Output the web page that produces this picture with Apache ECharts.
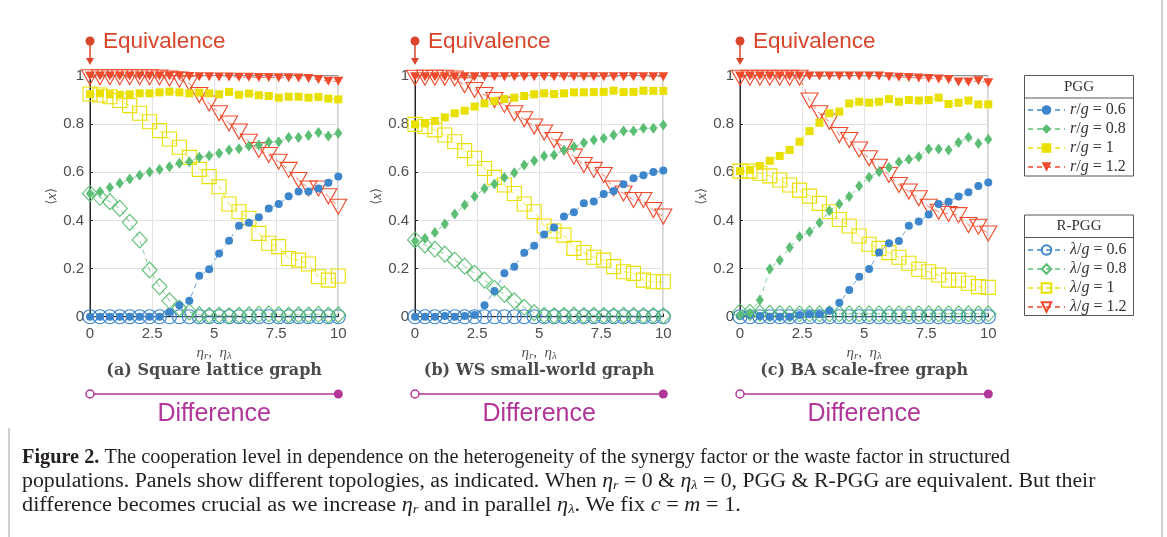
<!DOCTYPE html>
<html><head><meta charset="utf-8">
<script src="https://cdn.jsdelivr.net/npm/echarts@6/dist/echarts.min.js"></script>
<style>html,body{margin:0;padding:0;background:#fff}#c{width:1167px;height:537px}</style>
</head><body><div id="c"></div><script>
// ---- data ----
const xs = [0,0.4,0.8,1.2,1.6,2,2.4,2.8,3.2,3.6,4,4.4,4.8,5.2,5.6,6,6.4,6.8,7.2,7.6,8,8.4,8.8,9.2,9.6,10];
const xTicks = ['0','2.5','5','7.5','10'];
const yTicks = ['0','0.2','0.4','0.6','0.8','1'];
const panelTitles = ['(a) Square lattice graph','(b) WS small-world graph','(c) BA scale-free graph'];
const pggNames = ['r/g = 0.6','r/g = 0.8','r/g = 1','r/g = 1.2'];
const rpggNames = ['λ/g = 0.6','λ/g = 0.8','λ/g = 1','λ/g = 1.2'];

// panel (a) square lattice
const a_r06 = [0,0,0,0,0,0,0,0,0.02,0.048,0.066,0.17,0.197,0.263,0.316,0.378,0.39,0.413,0.45,0.468,0.50,0.52,0.52,0.533,0.557,0.582];
const a_r08 = [0.512,0.519,0.537,0.554,0.572,0.588,0.601,0.612,0.623,0.637,0.644,0.662,0.669,0.679,0.693,0.698,0.709,0.713,0.726,0.727,0.745,0.744,0.753,0.765,0.751,0.762];
const a_r10 = [0.925,0.928,0.924,0.922,0.924,0.928,0.928,0.932,0.935,0.932,0.928,0.931,0.928,0.924,0.934,0.922,0.927,0.92,0.917,0.91,0.914,0.914,0.91,0.913,0.906,0.903];
const a_r12 = [1,1,1,1,1,1,1,1,1,1,0.998,0.997,0.997,0.996,0.996,0.995,0.995,0.994,0.994,0.993,0.993,0.992,0.99,0.985,0.978,0.978];
const a_l06 = [0,0,0,0,0,0,0,0,0,0,0,0,0,0,0,0,0,0,0,0,0,0,0,0,0,0];
const a_l08 = [0.512,0.496,0.478,0.45,0.392,0.319,0.194,0.125,0.066,0.035,0.02,0.008,0.005,0.006,0.004,0.006,0.008,0.01,0.012,0.008,0.006,0.008,0.007,0.01,0.006,0.008];
const a_l10 = [0.925,0.921,0.914,0.898,0.877,0.845,0.81,0.773,0.738,0.704,0.662,0.612,0.582,0.54,0.468,0.436,0.409,0.346,0.305,0.291,0.242,0.235,0.219,0.166,0.152,0.169];
const a_l12 = [0.995,0.995,0.995,0.995,0.995,0.995,0.995,0.994,0.99,0.985,0.97,0.921,0.886,0.845,0.803,0.769,0.727,0.693,0.672,0.644,0.61,0.568,0.533,0.533,0.50,0.457];

// panel (b) WS small-world
const b_r06 = [0,0,0,0.003,0,0.003,0.007,0.048,0.107,0.18,0.208,0.266,0.295,0.342,0.371,0.416,0.434,0.471,0.479,0.51,0.522,0.55,0.575,0.588,0.601,0.607];
const b_r08 = [0.314,0.325,0.35,0.385,0.427,0.464,0.499,0.533,0.551,0.578,0.598,0.63,0.648,0.668,0.672,0.693,0.706,0.723,0.734,0.741,0.755,0.771,0.771,0.783,0.783,0.796];
const b_r10 = [0.799,0.803,0.813,0.828,0.845,0.856,0.873,0.886,0.896,0.904,0.91,0.917,0.924,0.928,0.925,0.928,0.932,0.932,0.933,0.934,0.939,0.933,0.934,0.939,0.938,0.938];
const b_r12 = [0.997,0.997,0.997,0.997,0.997,0.997,0.997,0.997,0.997,0.997,0.997,0.997,0.997,0.997,0.997,0.997,0.997,0.997,0.997,0.997,0.997,0.997,0.997,0.997,0.997,0.997];
const b_l06 = [0,0,0,0,0,0,0,0,0,0,0,0,0,0,0,0,0,0,0,0,0,0,0,0,0,0];
const b_l08 = [0.319,0.298,0.281,0.26,0.235,0.21,0.18,0.152,0.118,0.094,0.066,0.039,0.017,0.006,0.004,0.005,0.007,0.005,0.006,0.005,0.004,0.006,0.005,0.004,0.005,0.004];
const b_l10 = [0.799,0.79,0.776,0.755,0.727,0.69,0.658,0.616,0.579,0.547,0.512,0.468,0.436,0.377,0.356,0.339,0.284,0.267,0.247,0.235,0.208,0.187,0.18,0.152,0.145,0.145];
const b_l12 = [0.993,0.993,0.993,0.993,0.99,0.962,0.942,0.921,0.9,0.88,0.845,0.82,0.79,0.765,0.734,0.704,0.665,0.63,0.61,0.589,0.533,0.512,0.485,0.485,0.443,0.416];

// panel (c) BA scale-free
const c_r06 = [0.003,0.007,0.003,0,0,0,0.007,0.01,0.01,0.025,0.058,0.111,0.166,0.198,0.267,0.305,0.314,0.378,0.395,0.425,0.468,0.478,0.499,0.517,0.543,0.558];
const c_r08 = [0.007,0.014,0.069,0.198,0.235,0.287,0.332,0.353,0.39,0.44,0.468,0.499,0.543,0.579,0.602,0.62,0.643,0.654,0.665,0.697,0.697,0.693,0.724,0.746,0.72,0.737];
const c_r10 = [0.605,0.61,0.626,0.648,0.668,0.693,0.727,0.771,0.806,0.845,0.852,0.886,0.893,0.889,0.893,0.904,0.893,0.9,0.898,0.9,0.91,0.884,0.889,0.898,0.882,0.882];
const c_r12 = [1,1,1,1,1,1,1,1,1,1,1,1,1,1,1,0.997,0.995,0.994,0.992,0.99,0.988,0.985,0.975,0.975,0.98,0.972];
const c_l06 = [0,0,0,0,0,0,0,0,0,0,0,0,0,0,0,0,0,0,0,0,0,0,0,0,0,0];
const c_l08 = [0.02,0.018,0.015,0.014,0.013,0.012,0.012,0.012,0.012,0.012,0.012,0.012,0.012,0.012,0.012,0.012,0.012,0.012,0.012,0.012,0.012,0.012,0.012,0.012,0.012,0.012];
const c_l10 = [0.605,0.605,0.596,0.585,0.568,0.547,0.526,0.501,0.471,0.436,0.404,0.377,0.335,0.301,0.284,0.266,0.247,0.222,0.197,0.187,0.173,0.152,0.152,0.139,0.125,0.122];
const c_l12 = [0.993,0.993,0.993,0.993,0.993,0.993,0.993,0.898,0.845,0.81,0.755,0.734,0.695,0.658,0.623,0.589,0.547,0.52,0.492,0.457,0.436,0.427,0.422,0.381,0.374,0.346];

const panels = [
  {pgg:[a_r06,a_r08,a_r10,a_r12], rpgg:[a_l06,a_l08,a_l10,a_l12]},
  {pgg:[b_r06,b_r08,b_r10,b_r12], rpgg:[b_l06,b_l08,b_l10,b_l12]},
  {pgg:[c_r06,c_r08,c_r10,c_r12], rpgg:[c_l06,c_l08,c_l10,c_l12]}
];

// ---- style ----
const COLORS = ['#3D86CC','#5BBE74','#E9E000','#EF4A2B'];
const gridLeft = [90,415,740], gridW = 248.3, gridTop = 76, gridH = 240.7;
const fSym = ['circle','diamond','rect','triangle'];
const fSize = [8,[8,11],8,[10,9]];
const oSize = [14,[15,16],14,[17,15]];
const SERIF = 'Liberation Serif';

const grids = [], xAxes = [], yAxes = [], series = [];
panels.forEach((p, k) => {
  grids.push({left: gridLeft[k], top: gridTop, width: gridW, height: gridH, show: true, borderColor: '#262626', borderWidth: 1, backgroundColor: 'transparent'});
  xAxes.push({type:'value', gridIndex:k, min:0, max:10, interval:2.5,
    axisLine:{show:true, onZero:false, lineStyle:{color:'#262626', width:1}},
    axisTick:{show:true, inside:true, length:3, lineStyle:{color:'#262626'}},
    axisLabel:{color:'#4d4d4d', fontSize:15, fontFamily:'Liberation Sans', margin:10, formatter:(v)=>xTicks[Math.round(v/2.5)]},
    splitLine:{show:true, lineStyle:{color:'#e2e2e2', width:1}}});
  yAxes.push({type:'value', gridIndex:k, min:0, max:1, interval:0.2,
    name:'{a|⟨}{i|x}{a|⟩}', nameLocation:'middle', nameGap:27, nameRotate:90,
    nameTextStyle:{color:'#555', rich:{a:{fontFamily:'DejaVu Sans', fontSize:13, color:'#555'}, i:{fontFamily:SERIF, fontStyle:'italic', fontSize:15, color:'#555'}}},
    axisLine:{show:true, lineStyle:{color:'#262626', width:1}},
    axisTick:{show:true, inside:true, length:3, lineStyle:{color:'#262626'}},
    axisLabel:{color:'#4d4d4d', fontSize:15, fontFamily:'Liberation Sans', margin:6, formatter:(v)=>yTicks[Math.round(v*5)]},
    splitLine:{show:true, lineStyle:{color:'#e2e2e2', width:1}}});
  p.pgg.forEach((vals, j) => {
    series.push({type:'line', name:pggNames[j], xAxisIndex:k, yAxisIndex:k, clip:false, z: 3,
      data: xs.map((x,i)=>[x, vals[i]]),
      symbol:fSym[j], symbolSize:fSize[j], symbolRotate: j===3?180:0, showSymbol:true,
      itemStyle:{color:COLORS[j]},
      lineStyle:{color:COLORS[j], width:1, type:[5,4], opacity:0.75},
      emphasis:{disabled:true}, animation:false});
  });
  p.rpgg.forEach((vals, j) => {
    series.push({type:'line', name:rpggNames[j], xAxisIndex:k, yAxisIndex:k, clip:false, z: 2,
      data: xs.map((x,i)=>[x, vals[i]]),
      symbol:fSym[j], symbolSize:oSize[j], symbolRotate: j===3?180:0, showSymbol:true,
      itemStyle:{color:'rgba(255,255,255,0)', borderColor:COLORS[j], borderWidth:1.1},
      lineStyle:{color:COLORS[j], width:1, type:[5,4], opacity:0.75},
      emphasis:{disabled:true}, animation:false});
  });
});

const legendRich = {i:{fontFamily:SERIF, fontStyle:'italic', fontSize:16, color:'#333', lineHeight:16}, n:{fontFamily:SERIF, fontSize:16, color:'#333', lineHeight:16}};
const legFmt = (name) => {
  const m = name.match(/^(r|λ)\/g = (.*)$/);
  return '{i|' + m[1] + '}{n|/}{i|g}{n| = ' + m[2] + '}';
};
function legend(names, top) {
  return {data:names, orient:'vertical', left:1027, top:top, itemWidth:37, itemHeight:12, itemGap:3, padding:0,
    selectedMode:false, formatter:legFmt, textStyle:{fontFamily:SERIF, fontSize:16, lineHeight:16, color:'#333', rich:legendRich}};
}

const graphic = [];
// legend boxes
[[75.5, 'PGG'], [215, 'R-PGG']].forEach(([y, t]) => {
  graphic.push({type:'rect', shape:{x:1024.5, y:y, width:109, height:100.5}, style:{fill:'#fff', stroke:'#555', lineWidth:1}, z:-1});
  graphic.push({type:'line', shape:{x1:1024.5, y1:y+22.5, x2:1133.5, y2:y+22.5}, style:{stroke:'#555', lineWidth:1}});
  graphic.push({type:'text', x:1079, y:y+11.5, style:{text:t, fontFamily:SERIF, fontSize:15, fill:'#333', align:'center', verticalAlign:'middle'}});
});
// panel annotations
gridLeft.forEach((gx, k) => {
  const cx = gx + gridW/2, x1 = gx + gridW;
  graphic.push({type:'circle', shape:{cx:gx, cy:41, r:4.5}, style:{fill:'#D8452A'}});
  graphic.push({type:'line', shape:{x1:gx, y1:45, x2:gx, y2:59}, style:{stroke:'#D8452A', lineWidth:1.5}});
  graphic.push({type:'polygon', shape:{points:[[gx-4,58],[gx+4,58],[gx,65]]}, style:{fill:'#D8452A'}});
  graphic.push({type:'text', x:gx+13, y:42, style:{text:'Equivalence', fontFamily:'Liberation Sans', fontSize:22.5, fill:'#D8452A', verticalAlign:'middle'}});
  graphic.push({type:'text', x:cx, y:353, style:{text:'{i|η}{s|r}{n|,  }{i|η}{s|λ}', align:'center', verticalAlign:'middle',
    rich:{i:{fontFamily:SERIF, fontStyle:'italic', fontSize:15, fill:'#555'}, n:{fontFamily:SERIF, fontSize:15, fill:'#555'}, s:{fontFamily:SERIF, fontStyle:'italic', fontSize:11, fill:'#555', padding:[6,0,0,0]}}}});
  graphic.push({type:'text', x:cx, y:371, style:{text:panelTitles[k], fontFamily:'DejaVu Serif', fontWeight:'bold', fontSize:16, fill:'#4a4a4a', align:'center', verticalAlign:'middle'}});
  graphic.push({type:'line', shape:{x1:gx+4, y1:394, x2:x1, y2:394}, style:{stroke:'#B2359A', lineWidth:1.5}});
  graphic.push({type:'circle', shape:{cx:gx, cy:394, r:4}, style:{fill:'#fff', stroke:'#B2359A', lineWidth:1.5}});
  graphic.push({type:'circle', shape:{cx:x1, cy:394, r:4.5}, style:{fill:'#B2359A'}});
  graphic.push({type:'text', x:cx, y:414, style:{text:'Difference', fontFamily:'Liberation Sans', fontSize:25, fill:'#B2359A', align:'center', verticalAlign:'middle'}});
});
// frame lines
graphic.push({type:'line', shape:{x1:9, y1:428, x2:9, y2:537}, style:{stroke:'#cfcfcf', lineWidth:2}});
graphic.push({type:'line', shape:{x1:1162, y1:0, x2:1162, y2:537}, style:{stroke:'#cfcfcf', lineWidth:2}});
// caption
const CF = 20;
const capRich = {b:{fontFamily:SERIF, fontWeight:'bold', fontSize:CF, fill:'#231f20'}, n:{fontFamily:SERIF, fontSize:CF, fill:'#231f20'},
  i:{fontFamily:SERIF, fontStyle:'italic', fontSize:CF, fill:'#231f20'}, s:{fontFamily:SERIF, fontStyle:'italic', fontSize:13, fill:'#231f20', padding:[8,0,0,0]}};
const capLines = [
  '{b|Figure 2.}{n| The cooperation level in dependence on the heterogeneity of the synergy factor or the waste factor in structured}',
  '{n|populations. Panels show different topologies, as indicated. When }{i|η}{s|r}{n| = 0 & }{i|η}{s|λ}{n| = 0, PGG & R-PGG are equivalent. But their}',
  '{n|difference becomes crucial as we increase }{i|η}{s|r}{n| and in parallel }{i|η}{s|λ}{n|. We fix }{i|c}{n| = }{i|m}{n| = 1.}'
];
const capScale = [1.015, 1.09, 1.115];
capLines.forEach((t, i) => {
  graphic.push({type:'text', x:22, y:458 + 24*i, scaleX:capScale[i], style:{text:t, rich:capRich, verticalAlign:'middle'}});
});

const chart = echarts.init(document.getElementById('c'), null, {renderer:'canvas'});
chart.setOption({
  animation:false, backgroundColor:'#fff',
  grid:grids, xAxis:xAxes, yAxis:yAxes, series:series,
  legend:[legend(pggNames, 102), legend(rpggNames, 242)],
  graphic:graphic
});
</script></body></html>
